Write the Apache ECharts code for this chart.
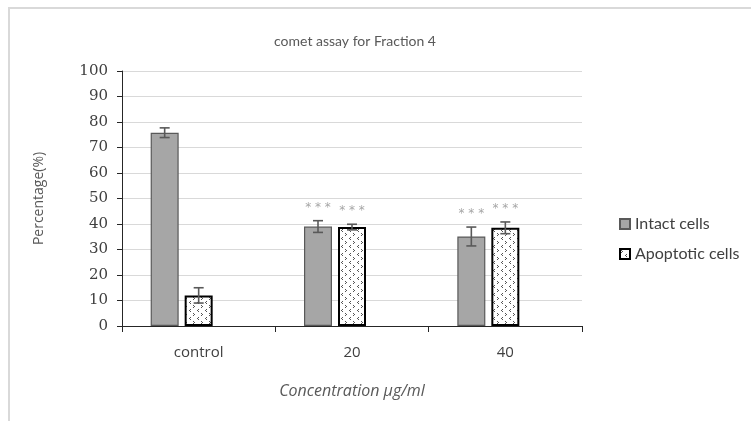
<!DOCTYPE html>
<html><head><meta charset="utf-8">
<script src="https://cdn.jsdelivr.net/npm/echarts@6/dist/echarts.min.js"></script>
<style>html,body{margin:0;padding:0;background:#fff}#c{width:751px;height:421px}</style>
</head><body><div id="c"></div>
<script>
const categories = ['control', '20', '40'];
const intact = [75.8, 39.0, 35.1];
const intactErr = [1.9, 2.3, 3.7];
const apoptotic = [12.0, 38.8, 38.5];
const apoptoticErr = [3.0, 1.1, 2.3];
const intactSig = ['', '***', '***'];
const apoptoticSig = ['', '***', '***'];
const yTicks = [0, 10, 20, 30, 40, 50, 60, 70, 80, 90, 100];

const pc = document.createElement('canvas');
pc.width = 8; pc.height = 8;
const g = pc.getContext('2d');
g.fillStyle = '#fff'; g.fillRect(0, 0, 8, 8);
g.fillStyle = '#555';
g.fillRect(1, 1, 1, 1); g.fillRect(2, 2, 1, 1); g.fillRect(1, 3, 1, 1);
g.fillRect(6, 5, 1, 1); g.fillRect(5, 6, 1, 1); g.fillRect(6, 7, 1, 1);
const pattern = { image: pc, repeat: 'repeat' };

const BW = 28, GAP = 6;
function errSeries(vals, errs, sig, offset) {
  return {
    type: 'custom', silent: true, z: 5,
    data: vals.map((v, i) => [i, v, errs[i], sig[i]]),
    renderItem: function (params, api) {
      const c = api.coord([api.value(0), 0]);
      const x = c[0] + offset;
      const v = api.value(1), e = api.value(2);
      const top = api.coord([api.value(0), v + e])[1];
      const bot = api.coord([api.value(0), v - e])[1];
      const st = { stroke: '#595959', lineWidth: 1.6 };
      const children = [
        { type: 'line', shape: { x1: x, y1: top, x2: x, y2: bot }, style: st },
        { type: 'line', shape: { x1: x - 5, y1: top, x2: x + 5, y2: top }, style: st },
        { type: 'line', shape: { x1: x - 5, y1: bot, x2: x + 5, y2: bot }, style: st }
      ];
      const s = sig[params.dataIndex];
      if (s) children.push({ type: 'text', style: { text: s.split('').join(' '), x: x, y: top - 13, align: 'center', verticalAlign: 'middle', fill: '#a6a6a6', font: '12px "DejaVu Sans"' } });
      return { type: 'group', children: children };
    }
  };
}

const chart = echarts.init(document.getElementById('c'));
chart.setOption({
  animation: false,
  backgroundColor: '#fff',
  graphic: [{ type: 'rect', shape: { x: 9, y: 8, width: 800, height: 430 }, style: { fill: 'none', stroke: '#d9d9d9', lineWidth: 2 }, silent: true }],
  title: { text: 'comet assay for Fraction 4', left: 350, top: 29, textAlign: 'center',
    textStyle: { fontFamily: 'Lato', fontWeight: 'normal', fontSize: 14, color: '#595959' } },
  legend: {
    data: ['Intact cells', 'Apoptotic cells'], orient: 'vertical', left: 614, top: 211,
    itemWidth: 10, itemHeight: 10, itemGap: 14, icon: 'rect',
    textStyle: { fontFamily: 'Lato', fontSize: 16, color: '#404040', padding: [0, 0, 0, 0] }
  },
  grid: { left: 122, right: 169, top: 71, bottom: 95 },
  xAxis: {
    type: 'category', data: categories,
    name: 'Concentration µg/ml', nameLocation: 'middle', nameGap: 57,
    nameTextStyle: { fontFamily: 'Open Sans', fontStyle: 'italic', fontSize: 16, color: '#595959' },
    axisLine: { lineStyle: { color: '#262626', width: 1 } },
    axisTick: { show: true, length: 6, lineStyle: { color: '#262626' } },
    axisLabel: { margin: 19, fontFamily: 'Open Sans', fontSize: 15, color: '#404040' }
  },
  yAxis: {
    type: 'value', min: yTicks[0], max: yTicks[yTicks.length - 1], interval: 10,
    name: 'Percentage(%)', nameLocation: 'middle', nameGap: 76, nameRotate: 90,
    nameTextStyle: { fontFamily: 'Open Sans', fontSize: 14, color: '#595959' },
    axisLine: { show: true, lineStyle: { color: '#262626', width: 1 } },
    axisTick: { show: true, length: 5, lineStyle: { color: '#262626' } },
    axisLabel: { margin: 14, fontFamily: 'DejaVu Serif', fontSize: 15, color: '#404040' },
    splitLine: { lineStyle: { color: '#d9d9d9', width: 1 } }
  },
  series: [
    { name: 'Intact cells', type: 'bar', data: intact, barWidth: BW, barGap: (GAP / BW * 100) + '%',
      itemStyle: { color: '#a6a6a6', borderColor: '#595959', borderWidth: 1.2 } },
    { name: 'Apoptotic cells', type: 'bar', data: apoptotic, barWidth: BW,
      itemStyle: { color: pattern, borderColor: '#000', borderWidth: 2 } },
    { name: 'Necrotic cells', type: 'bar', data: [null, null, null], barWidth: BW },
    errSeries(intact, intactErr, intactSig, -(BW + GAP)),
    errSeries(apoptotic, apoptoticErr, apoptoticSig, 0)
  ]
});
</script></body></html>
